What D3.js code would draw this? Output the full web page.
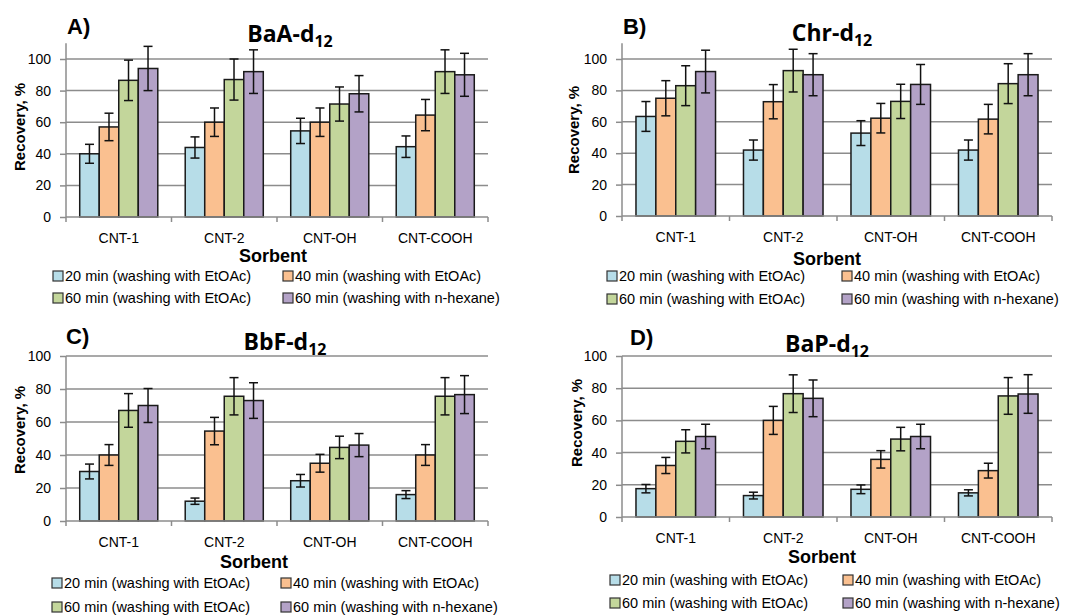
<!DOCTYPE html>
<html>
<head>
<meta charset="utf-8">
<script src="https://cdn.jsdelivr.net/npm/d3@7"></script>
<style>
  body { margin: 0; background: #fff; }
  svg { display: block; font-family: "Liberation Sans", Arial, sans-serif; }
</style>
</head>
<body>
<svg id="chart" width="1070" height="616"></svg>
<script>
// data
const categories = ["CNT-1", "CNT-2", "CNT-OH", "CNT-COOH"];
const seriesNames = [
  "20 min (washing with EtOAc)",
  "40 min (washing with EtOAc)",
  "60 min (washing with EtOAc)",
  "60 min (washing with n-hexane)"
];
const seriesColors = ["#b7dde8", "#fac090", "#c3d69b", "#b3a2c7"];
const yTicks = [0, 20, 40, 60, 80, 100];

// rows = sorbent, columns = series
const baaValues = [[40, 57, 86.5, 94], [44, 60, 87, 92], [54.5, 60, 71.5, 78], [44.5, 64.5, 92, 90]];
const baaErrors = [[6, 8.7, 12.8, 14], [6.7, 9, 13, 13.8], [8, 9, 10.8, 11.5], [6.8, 9.9, 13.8, 13.6]];

const chrValues = [[63.4, 75, 83, 92], [42, 72.8, 92.6, 90], [52.8, 62.3, 73, 83.8], [42, 61.7, 84.3, 90]];
const chrErrors = [[9.5, 11.2, 12.7, 13.6], [6.4, 10.9, 13.6, 13.4], [7.9, 9.4, 10.9, 12.7], [6.4, 9.4, 12.7, 13.4]];

const bbfValues = [[30, 40, 67, 70], [12, 54.5, 75.6, 73], [24.4, 35, 44.6, 46], [16, 40, 75.6, 76.6]];
const bbfErrors = [[4.5, 6.3, 10.2, 10.3], [1.9, 8.3, 11.3, 10.8], [3.8, 5.4, 6.8, 7], [2.4, 6.3, 11.3, 11.5]];

const bapValues = [[17.6, 32, 47, 50], [13.3, 60, 76.6, 73.7], [17.2, 35.8, 48.4, 50], [15, 28.8, 75.2, 76.4]];
const bapErrors = [[2.6, 5, 7.2, 7.6], [2.1, 8.7, 11.7, 11.4], [2.7, 5.4, 7.3, 7.6], [1.9, 4.6, 11.4, 12]];

let chart = d3.select("#chart");
chart.append("rect").attr("width", 1070).attr("height", 616).attr("fill", "#fff");

function draw_panel(p){

    let g = chart.append("g");

    //y scale (Excel style: 0 at bottom, top of plot area at yMax)
    let y = d3.scaleLinear()
                .domain([0, 100])
                .range([p.y0, p.y100]);
    let yTop = y(p.yMax);

    //x scales
    let x = d3.scaleBand()
                .domain(categories)
                .range([p.left, p.right]);
    let gap = x.bandwidth() * 0.13;
    let x1 = d3.scaleBand()
                .domain(d3.range(seriesNames.length))
                .range([gap, x.bandwidth() - gap]);

    //gridlines
    g.selectAll(".grid")
        .data(yTicks.slice(1))
        .enter()
        .append("line")
            .attr("x1", p.left)
            .attr("x2", p.right)
            .attr("y1", d => y(d))
            .attr("y2", d => y(d))
            .attr("stroke", "#8c8c8c")
            .attr("stroke-width", 1.5);

    //y axis
    let yAxis = g.append("g")
        .attr("transform", "translate(" + p.left + ",0)")
        .call(d3.axisLeft(y).tickValues(yTicks).tickSize(6).tickSizeOuter(0).tickPadding(9));
    yAxis.select(".domain").remove();
    yAxis.append("line")
        .attr("y1", p.y0).attr("y2", yTop)
        .attr("stroke", "#8c8c8c").attr("stroke-width", 1.5);
    yAxis.selectAll(".tick line").attr("stroke", "#8c8c8c").attr("stroke-width", 1.5);
    yAxis.selectAll(".tick text")
        .attr("fill", "#000")
        .style("font-size", "14px")
        .style("font-family", "Liberation Sans, Arial, sans-serif");

    //bars
    let groups = g.selectAll(".group")
        .data(p.values)
        .enter()
        .append("g")
            .attr("transform", (d, i) => "translate(" + x(categories[i]) + ",0)");

    groups.selectAll("rect")
        .data(d => d)
        .enter()
        .append("rect")
            .attr("x", (d, j) => x1(j))
            .attr("y", d => y(d))
            .attr("width", x1.bandwidth())
            .attr("height", d => p.y0 - y(d))
            .attr("fill", (d, j) => seriesColors[j])
            .attr("stroke", "#1a1a1a")
            .attr("stroke-width", 1.5);

    //error bars
    groups.each(function(row, i){
        let eg = d3.select(this);
        row.forEach(function(v, j){
            let e = p.errors[i][j];
            let cx = x1(j) + x1.bandwidth() / 2;
            eg.append("line")
                .attr("x1", cx).attr("x2", cx)
                .attr("y1", y(v - e)).attr("y2", y(v + e))
                .attr("stroke", "#111").attr("stroke-width", 1.5);
            [v - e, v + e].forEach(function(c){
                eg.append("line")
                    .attr("x1", cx - 4.5).attr("x2", cx + 4.5)
                    .attr("y1", y(c)).attr("y2", y(c))
                    .attr("stroke", "#111").attr("stroke-width", 1.5);
            });
        });
    });

    //x axis
    g.append("line")
        .attr("x1", p.left).attr("x2", p.right)
        .attr("y1", p.y0).attr("y2", p.y0)
        .attr("stroke", "#8c8c8c").attr("stroke-width", 1.5);
    let bounds = categories.map(c => x(c)).concat([p.right]);
    g.selectAll(".xtick")
        .data(bounds)
        .enter()
        .append("line")
            .attr("x1", d => d).attr("x2", d => d)
            .attr("y1", p.y0).attr("y2", p.y0 + 5)
            .attr("stroke", "#8c8c8c").attr("stroke-width", 1.5);
    g.selectAll(".xlabel")
        .data(categories)
        .enter()
        .append("text")
            .attr("x", d => x(d) + x.bandwidth() / 2)
            .attr("y", p.xLabelY)
            .attr("text-anchor", "middle")
            .attr("dominant-baseline", "central")
            .style("font-size", "14px")
            .text(d => d);

    //axis titles
    g.append("text")
        .attr("x", p.sorbentX)
        .attr("y", p.sorbentY)
        .attr("text-anchor", "middle")
        .attr("dominant-baseline", "central")
        .style("font-size", "18px")
        .style("font-weight", "bold")
        .text("Sorbent");

    g.append("text")
        .attr("transform", "translate(" + p.yTitleX + "," + p.yTitleY + ") rotate(-90)")
        .attr("text-anchor", "middle")
        .attr("dominant-baseline", "central")
        .style("font-size", "15px")
        .style("font-weight", "bold")
        .text("Recovery, %");

    //title with subscript
    let t = g.append("text")
        .attr("x", p.titleX)
        .attr("y", p.titleY)
        .attr("text-anchor", "middle")
        .style("font-family", "'Open Sans', sans-serif")
        .style("font-size", "23px")
        .style("font-weight", "bold");
    t.append("tspan").text(p.title);
    t.append("tspan").attr("dy", 5).style("font-size", "16px").text("12");

    g.append("text")
        .attr("x", p.labelX)
        .attr("y", p.labelY)
        .attr("dominant-baseline", "central")
        .style("font-size", "22px")
        .style("font-weight", "bold")
        .text(p.label);

    //legend
    seriesNames.forEach(function(name, j){
        let lx = p.legendX[j % 2];
        let ly = p.legendY[Math.floor(j / 2)];
        g.append("rect")
            .attr("x", lx).attr("y", ly - 5)
            .attr("width", 10).attr("height", 10)
            .attr("fill", seriesColors[j])
            .attr("stroke", "#333").attr("stroke-width", 1.2);
        g.append("text")
            .attr("x", lx + 12)
            .attr("y", ly)
            .attr("dominant-baseline", "central")
            .style("font-size", "14.5px")
            .text(name);
    });
}

draw_panel({
    values: baaValues, errors: baaErrors, title: "BaA-d", label: "A)",
    left: 66, right: 488, y0: 217, y100: 59, yMax: 110,
    xLabelY: 238, sorbentX: 273, sorbentY: 256, yTitleX: 19, yTitleY: 127,
    titleX: 290, titleY: 42, labelX: 67, labelY: 26,
    legendX: [53, 283], legendY: [276, 298]
});
draw_panel({
    values: chrValues, errors: chrErrors, title: "Chr-d", label: "B)",
    left: 622, right: 1052, y0: 216, y100: 59, yMax: 110,
    xLabelY: 237, sorbentX: 827, sorbentY: 259, yTitleX: 573, yTitleY: 130,
    titleX: 832, titleY: 41, labelX: 623, labelY: 26,
    legendX: [607, 842], legendY: [276, 299]
});
draw_panel({
    values: bbfValues, errors: bbfErrors, title: "BbF-d", label: "C)",
    left: 66, right: 488, y0: 521, y100: 356, yMax: 100,
    xLabelY: 542, sorbentX: 254, sorbentY: 562, yTitleX: 19, yTitleY: 430,
    titleX: 285, titleY: 350, labelX: 66, labelY: 336,
    legendX: [52, 281], legendY: [583, 607]
});
draw_panel({
    values: bapValues, errors: bapErrors, title: "BaP-d", label: "D)",
    left: 622, right: 1052, y0: 517, y100: 356, yMax: 100,
    xLabelY: 538, sorbentX: 822, sorbentY: 557, yTitleX: 576, yTitleY: 423,
    titleX: 827, titleY: 352, labelX: 630, labelY: 337,
    legendX: [610, 843], legendY: [580, 603]
});
</script>
</body>
</html>
